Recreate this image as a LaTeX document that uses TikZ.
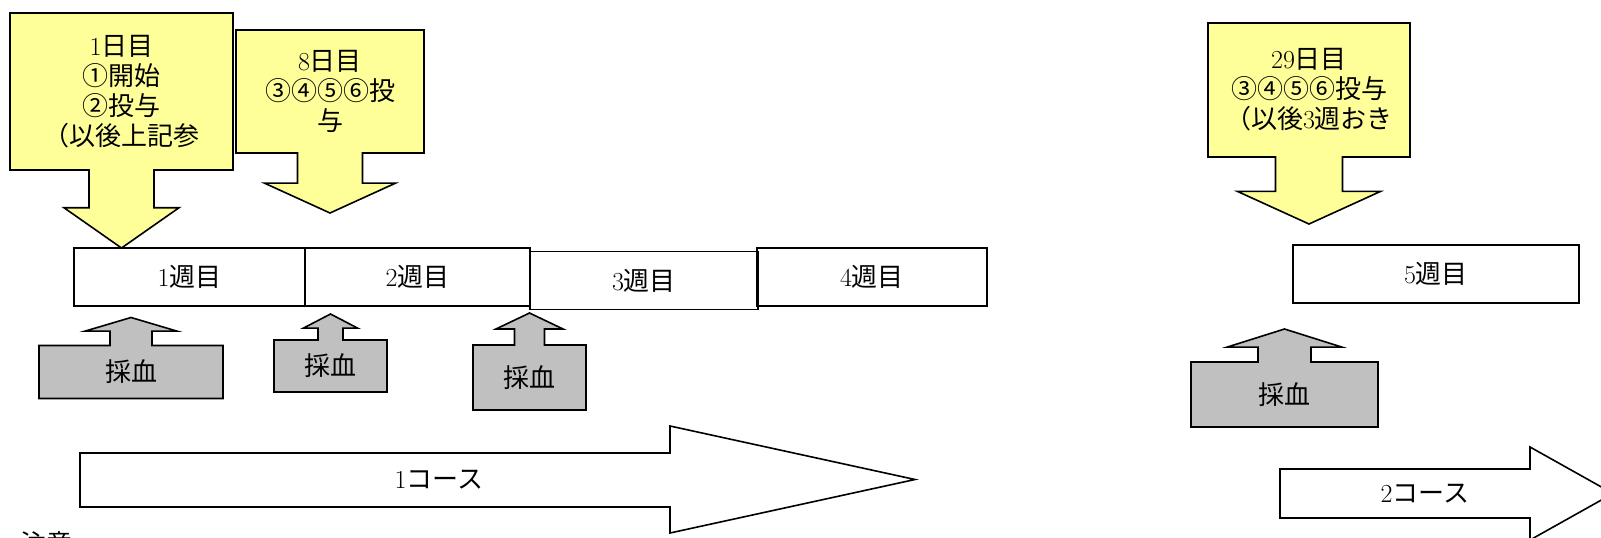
\documentclass[tikz,border=0pt]{standalone}
\usepackage{fontspec}
\newfontfamily\jp{Noto Sans CJK JP}
\usetikzlibrary{shapes.arrows,positioning}

\definecolor{doseyellow}{RGB}{255,255,153}
\definecolor{bloodgray}{RGB}{192,192,192}
\newcommand{\jpfont}{\jp\fontsize{26}{30}\selectfont}
\newcommand{\lm}[1]{{\rmfamily #1}}

\tikzstyle{box}    = [draw, line width=1.6pt, inner sep=0pt, outer sep=0pt, align=center, font=\jpfont]
\tikzstyle{dose}   = [box, arrow box, fill=doseyellow, arrow box north arrow=-1pt, arrow box east arrow=-1pt, arrow box west arrow=-1pt]
\tikzstyle{blood}  = [box, arrow box, fill=bloodgray, arrow box south arrow=-1pt, arrow box east arrow=-1pt, arrow box west arrow=-1pt]
\tikzstyle{week}   = [box, rectangle, minimum height=58pt]
\tikzstyle{course} = [draw, fill=white, line width=1.6pt]

\begin{document}
\begin{tikzpicture}[x=1pt, y=-1pt]
\useasboundingbox (0,0) rectangle (1601,538);

% dosing
\node (day1)  [dose, minimum width=223pt, minimum height=157pt, arrow box shaft width=65pt, arrow box head extend=25pt, arrow box tip angle=110, arrow box south arrow=78pt] at (121.5,91.5) {\lm{1}日目\\①開始\\②投与\\（以後上記参};
\node (day8)  [dose, minimum width=188pt, minimum height=123pt, arrow box shaft width=65pt, arrow box head extend=33pt, arrow box tip angle=131, arrow box south arrow=60pt] at (330,91.5) {\lm{8}日目\\③④⑤⑥投\\与};
\node (day29) [dose, minimum width=202pt, minimum height=134pt, arrow box shaft width=67pt, arrow box head extend=38pt, arrow box tip angle=131, arrow box south arrow=67pt] at (1309,90) {\lm{29}日目\\③④⑤⑥投与\\（以後\lm{3}週おき};

% weeks
\node (w1) [week, minimum width=231pt] at (189.5,277) {\lm{1}週目};
\node (w2) [week, minimum width=225pt, right=0pt of w1] {\lm{2}週目};
\node (w3) [week, minimum width=228pt, right=0pt of w2, yshift=-3.5pt] {\lm{3}週目};
\node (w4) [week, minimum width=230pt, right=0pt of w2, xshift=227pt] {\lm{4}週目};
\node (w5) [week, minimum width=286pt] at (1436,274) {\lm{5}週目};

% blood sampling
\node (blood1) [blood, minimum width=184pt, minimum height=53pt, arrow box shaft width=42pt, arrow box head extend=25pt, arrow box tip angle=147, arrow box north arrow=28pt] at (131,372) {採血};
\node (blood2) [blood, minimum width=113pt, minimum height=52pt, arrow box shaft width=25pt, arrow box head extend=14.5pt, arrow box tip angle=125, arrow box north arrow=26pt] at (330.5,366) {採血};
\node (blood3) [blood, minimum width=113pt, minimum height=65pt, arrow box shaft width=30pt, arrow box head extend=18.5pt, arrow box tip angle=129, arrow box north arrow=32pt] at (529.5,377.5) {採血};
\node (blood4) [blood, minimum width=187pt, minimum height=65pt, arrow box shaft width=53pt, arrow box head extend=31pt, arrow box tip angle=145, arrow box north arrow=33pt] at (1284.5,394.5) {採血};

% courses
\draw [course] (80,453) -- (670,453) -- (670,426) -- (915,479.5) -- (670,533) -- (670,507) -- (80,507) -- cycle;
\node (course1) [font=\jpfont] at (439,480) {\lm{1}コース};
\draw [course] (1280,469) -- (1530,469) -- (1530,447) -- (1613,493.5) -- (1530,540) -- (1530,518) -- (1280,518) -- cycle;
\node (course2) [font=\jpfont] at (1425,494) {\lm{2}コース};

\node (note) [font=\jpfont, anchor=north west, inner sep=0pt] at (20,531) {注意};
\end{tikzpicture}
\end{document}
